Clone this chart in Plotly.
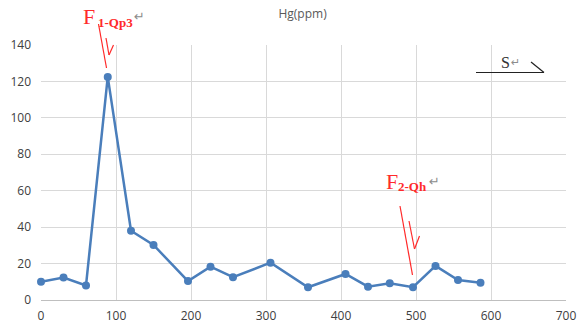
import plotly.graph_objects as go

# Hg concentration along the profile
distance = [0, 30, 60, 89, 120, 150, 196, 226, 256, 306, 356, 406, 436, 465, 496, 526, 556, 586]
hg_ppm = [10, 12.3, 8, 122.5, 38, 30.2, 10.4, 18.3, 12.5, 20.5, 7, 14.3, 7.3, 9.2, 7, 18.7, 11, 9.5]

x_ticks = [0, 100, 200, 300, 400, 500, 600, 700]
y_ticks = [0, 20, 40, 60, 80, 100, 120, 140]

W, H = 584, 326
L, R, T, B = 41, 18, 45, 26
PW, PH = W - L - R, H - T - B


def px(x):
    return (x - L) / PW


def py(y):
    return (H - B - y) / PH


fig = go.Figure()
fig.add_trace(go.Scatter(
    x=distance, y=hg_ppm, mode="lines+markers",
    line=dict(color="#4a7ebb", width=2.5),
    marker=dict(color="#4a7ebb", size=8),
    cliponaxis=False, showlegend=False,
))

red = "#ff2a2a"
grey_mark = "#8c8c8c"
shapes = []


def seg(x0, y0, x1, y1, color=red, width=1.2):
    shapes.append(dict(type="line", xref="paper", yref="paper",
                       x0=px(x0), y0=py(y0), x1=px(x1), y1=py(y1),
                       line=dict(color=color, width=width)))


# fault F1
seg(98.5, 24, 106.5, 68)
seg(106, 38, 109, 55)
seg(109, 55, 113.5, 45)
# fault F2
seg(400, 206, 412.5, 275)
seg(409, 221, 414.5, 249)
seg(414.5, 249, 419.5, 236)
# strike symbol S
seg(476, 72.5, 544, 72.5, color="#222222", width=1.2)
seg(531, 62, 544, 72.5, color="#222222", width=1.2)

annotations = []


def label(x, y, text, size, color, family="Liberation Serif", bold=False, anchor="left"):
    annotations.append(dict(
        xref="paper", yref="paper", x=px(x), y=py(y), xanchor=anchor, yanchor="middle",
        text=f"<b>{text}</b>" if bold else text, showarrow=False,
        font=dict(family=family, size=size, color=color)))


label(81, 17, "F", 22, red)
label(96, 22, "1-Qp3", 13, red, bold=True)
label(132, 17, "↵", 13, grey_mark, family="DejaVu Sans")
label(384, 181, "F", 22, red)
label(396, 186, "2-Qh", 13, red, bold=True)
label(427, 181, "↵", 13, grey_mark, family="DejaVu Sans")
label(499, 63, "S", 16, "#333333")
label(509, 62, "↵", 11, grey_mark, family="DejaVu Sans")

fig.update_layout(
    width=W, height=H,
    margin=dict(l=L, r=R, t=T, b=B),
    paper_bgcolor="white", plot_bgcolor="white",
    title=dict(text="Hg(ppm)", x=px(313), xanchor="center", y=1 - 14 / H, yanchor="middle",
               font=dict(family="Open Sans", size=12, color="#595959")),
    xaxis=dict(range=[0, 700], tickvals=x_ticks, showgrid=True, gridcolor="#d9d9d9",
               gridwidth=1, zeroline=False, showline=False, ticks="", ticklabelstandoff=7,
               automargin=False,
               tickfont=dict(family="Open Sans", size=12, color="#404040")),
    yaxis=dict(range=[0, 140], tickvals=y_ticks, showgrid=True, gridcolor="#d9d9d9",
               gridwidth=1, zeroline=True, zerolinecolor="#bfbfbf", zerolinewidth=1,
               showline=False, ticks="", ticklabelstandoff=9, automargin=False,
               tickfont=dict(family="Open Sans", size=12, color="#404040")),
    shapes=shapes, annotations=annotations,
)

fig.write_html("out.html")
